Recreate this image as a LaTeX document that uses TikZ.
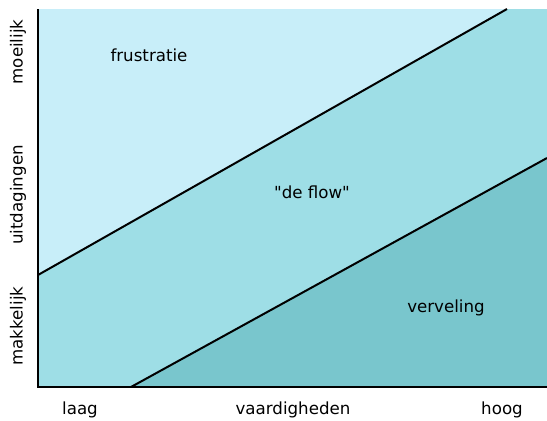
\documentclass[tikz,border=0pt]{standalone}
\usepackage{fontspec}
\setmainfont{DejaVu Sans}
\usetikzlibrary{positioning}
\definecolor{zonehard}{HTML}{C8EEF9}
\definecolor{zoneflow}{HTML}{9EDEE6}
\definecolor{zoneeasy}{HTML}{79C6CD}

\begin{document}
\begin{tikzpicture}[x=0.75pt, y=-0.75pt,
  zonelabel/.style={font=\fontsize{12.5}{15}\selectfont, inner sep=0pt},
  axislabel/.style={font=\fontsize{12.5}{15}\selectfont, inner sep=0pt},
  boundary/.style={black, line width=1.5pt},
  axisline/.style={black, line width=1.9pt}
]
  \useasboundingbox (0,0) rectangle (547,421);
  % corners of the plot
  \coordinate (origin) at (38,387);
  \coordinate (top) at (38,9);
  \coordinate (right) at (547,387);
  % the two borders of the flow channel
  \coordinate (upstart) at (38,275);
  \coordinate (upend) at (507,9);
  \coordinate (lowstart) at (131,387);
  \coordinate (lowend) at (547,158);
  % zones
  \fill[zonehard] (top) rectangle (right);
  \fill[zoneflow] (upstart) -- (upend) -- (547,9) -- (right) -- (origin) -- cycle;
  \fill[zoneeasy] (lowstart) -- (lowend) -- (right) -- cycle;
  \draw[boundary] (upstart) -- (upend);
  \draw[boundary] (lowstart) -- (lowend);
  \draw[axisline] (top) -- (origin) -- (right);
  % zone names
  \node[zonelabel] (frus) at (149,55) {frustratie};
  \node[zonelabel] (flow) at (312,192) {\textquotedbl de flow\textquotedbl};
  \node[zonelabel] (verv) at (446,308) {verveling};
  % axis labels
  \node[axislabel] (skill) at (293,410) {vaardigheden};
  \node[axislabel] (low) at (80,410) {laag};
  \node[axislabel] (high) at (502,410) {hoog};
  \node[axislabel, rotate=90] (chal) at (18,195) {uitdagingen};
  \node[axislabel, rotate=90] (hard) at (18,52) {moeilijk};
  \node[axislabel, rotate=90] (easy) at (18,326) {makkelijk};
\end{tikzpicture}
\end{document}
